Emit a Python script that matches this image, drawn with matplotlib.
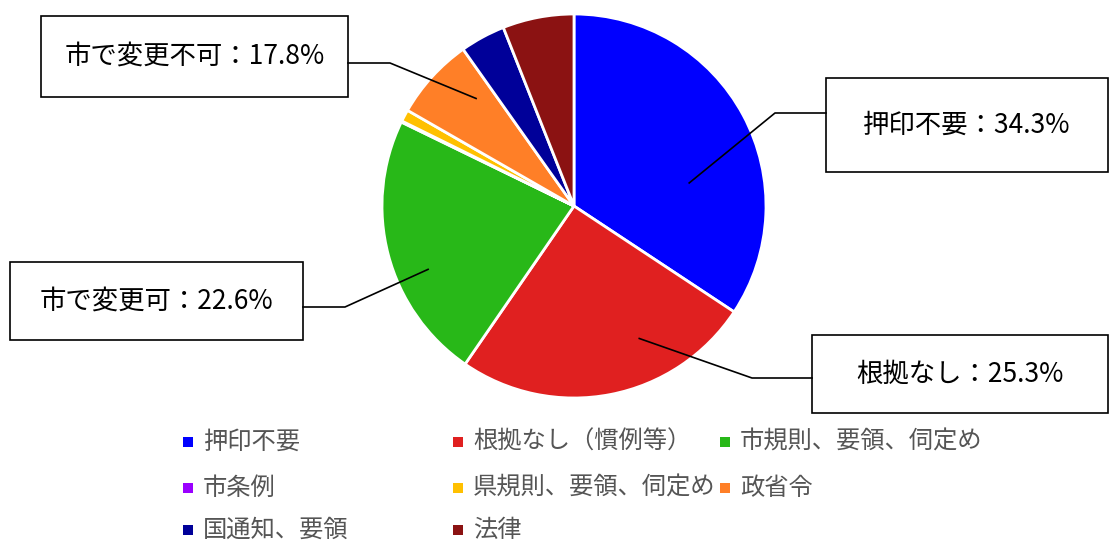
import matplotlib.pyplot as plt
from matplotlib.patches import Rectangle
import numpy as np

plt.rcParams['font.family'] = ['Noto Sans CJK JP', 'DejaVu Sans']

labels = ['押印不要', '根拠なし（慣例等）', '市規則、要領、伺定め', '市条例',
          '県規則、要領、伺定め', '政省令', '国通知、要領', '法律']
values = [34.3, 25.3, 22.6, 0.1, 1.0, 6.9, 3.8, 6.0]
colors = ['#0000FF', '#E02020', '#28B818', '#9A00FF',
          '#FFC000', '#FF7F27', '#000099', '#8B1212']

# callout groups: (caption, slice indices)
groups = [('押印不要', [0]), ('根拠なし', [1]), ('市で変更可', [2]),
          ('市で変更不可', [3, 4, 5, 6, 7])]

W, H = 1110, 541
fig = plt.figure(figsize=(W / 100, H / 100), dpi=100)


def fx(x):
    return x / W


def fy(y):
    return 1 - y / H


cx, cy, r = 574, 206, 192
ax = fig.add_axes([fx(cx - r), fy(cy + r), 2 * r / W, 2 * r / H])
ax.pie(values, colors=colors, startangle=90, counterclock=False,
       wedgeprops=dict(edgecolor='white', linewidth=2))
ax.set_xlim(-1, 1)
ax.set_ylim(-1, 1)
ax.set_aspect('auto')

# boxes (left, top, right, bottom) in px, anchor in pie units, elbow in px
boxes = [(826, 78, 1108, 172), (812, 335, 1108, 413),
         (10, 262, 303, 340), (41, 16, 348, 97)]
anchors = [(0.6, 0.12), (0.34, -0.69), (-0.76, -0.33), (-0.51, 0.56)]
elbows = [(775, 113), (752, 378), (345, 307), (390, 63)]
sides = ['left', 'left', 'right', 'right']

for (cap, idx), (l, t, rr, b), (axx, ayy), (ex, ey), side in zip(
        groups, boxes, anchors, elbows, sides):
    pct = sum(values[i] for i in idx)
    fig.add_artist(Rectangle((fx(l), fy(b)), fx(rr - l), (b - t) / H,
                             transform=fig.transFigure, facecolor='white',
                             edgecolor='black', linewidth=1.2))
    fig.text(fx((l + rr) / 2), fy((t + b) / 2), '%s：%.1f%%' % (cap, pct),
             ha='center', va='center', fontsize=19)
    px = cx + axx * r
    py = cy - ayy * r
    bx = l if side == 'left' else rr
    fig.add_artist(plt.Line2D([fx(px), fx(ex), fx(bx)], [fy(py), fy(ey), fy(ey)],
                              transform=fig.transFigure, color='black', lw=1.2))

# legend, row-major in 3 columns
col_x = [188, 458, 725]
row_y = [442, 488, 530]
for i, (lab, col) in enumerate(zip(labels, colors)):
    x = col_x[i % 3]
    y = row_y[i // 3]
    fig.add_artist(Rectangle((fx(x - 5), fy(y + 5)), 10 / W, 10 / H,
                             transform=fig.transFigure, facecolor=col,
                             edgecolor='none'))
    fig.text(fx(x + 15), fy(y), lab, ha='left', va='center', fontsize=17.5,
             color='#555555')

fig.savefig('out.png', dpi=100)
